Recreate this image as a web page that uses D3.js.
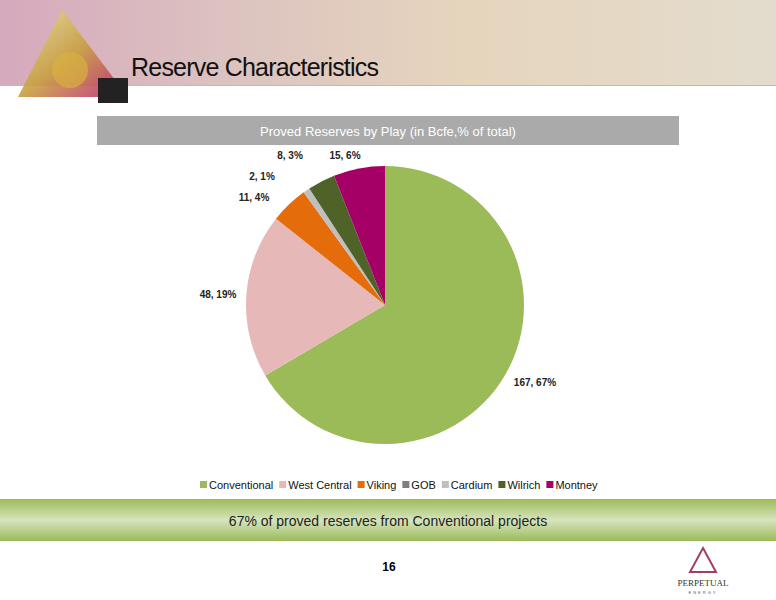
<!DOCTYPE html>
<html><head><meta charset="utf-8">
<script src="https://cdn.jsdelivr.net/npm/d3@7"></script>
<style>body{margin:0;background:#fff}svg{display:block;font-family:"Liberation Sans",Arial,sans-serif}</style>
</head><body>
<script>
const plays = ['Conventional','West Central','Viking','GOB','Cardium','Wilrich','Montney'];
const reserves = [167, 48, 11, 0, 2, 8, 15];
const shares = [67, 19, 4, 0, 1, 3, 6];
const colors = ['#9bbb59','#e6b9b8','#e46c0a','#7f7f7f','#bfbfbf','#4f6228','#a50066'];

const width = 776, height = 600;
const svg = d3.select('body').append('svg').attr('width', width).attr('height', height);
const defs = svg.append('defs');

let hg = defs.append('linearGradient').attr('id','hdr');
hg.append('stop').attr('offset','0%').attr('stop-color','#d6a9bd');
hg.append('stop').attr('offset','30%').attr('stop-color','#dcc3c0');
hg.append('stop').attr('offset','60%').attr('stop-color','#e6d5bd');
hg.append('stop').attr('offset','100%').attr('stop-color','#e3dccd');
svg.append('rect').attr('width',width).attr('height',85).attr('fill','url(#hdr)');
svg.append('line').attr('x1',0).attr('x2',width).attr('y1',85.5).attr('y2',85.5).attr('stroke','#bbb');

// logo triangle
let lg = defs.append('linearGradient').attr('id','logo').attr('x1',0).attr('y1',0).attr('x2',1).attr('y2',1);
lg.append('stop').attr('offset','0%').attr('stop-color','#e8e0a0');
lg.append('stop').attr('offset','50%').attr('stop-color','#c8a040');
lg.append('stop').attr('offset','100%').attr('stop-color','#c0207a');
svg.append('path').attr('d','M62,10 L128,97 L18,97 Z').attr('fill','url(#logo)').attr('opacity',0.9);
svg.append('circle').attr('cx',70).attr('cy',70).attr('r',18).attr('fill','#d8b040').attr('opacity',0.7);
svg.append('rect').attr('x',98).attr('y',78).attr('width',30).attr('height',25).attr('fill','#222');

svg.append('text').attr('x',131).attr('y',76).attr('font-size',25).attr('fill','#111')
  .attr('textLength',248).text('Reserve Characteristics');

svg.append('rect').attr('x',97).attr('y',116).attr('width',582).attr('height',29).attr('fill','#aaaaaa');
svg.append('text').attr('x',388).attr('y',136).attr('text-anchor','middle').attr('font-size',13)
  .attr('fill','#fff').text('Proved Reserves by Play (in Bcfe,% of total)');

const data = plays.map((p,i) => ({play:p, value:reserves[i], share:shares[i], color:colors[i]}));
const pie = d3.pie().sort(null).value(d => d.value);
const arcs = pie(data);
const r = 139, cx = 385, cy = 305;
const arc = d3.arc().innerRadius(0).outerRadius(r);
const g = svg.append('g').attr('transform',`translate(${cx},${cy})`);
g.selectAll('path').data(arcs).enter().append('path').attr('d',arc).attr('fill',d => d.data.color);

const labelPos = {Conventional:[535,386], 'West Central':[218,298], Viking:[254,201], Cardium:[262,180], Wilrich:[290,159], Montney:[345,159]};
svg.selectAll('.lbl').data(arcs.filter(d => d.data.value > 0)).enter().append('text')
  .attr('x', d => labelPos[d.data.play][0]).attr('y', d => labelPos[d.data.play][1])
  .attr('text-anchor','middle').attr('font-size',10).attr('font-weight','bold').attr('fill','#222')
  .text(d => `${d.data.value}, ${d.data.share}%`);

// legend
const items = svg.append('g');
let x = 200;
data.forEach(d => {
  items.append('rect').attr('x',x).attr('y',481).attr('width',7).attr('height',7).attr('fill',d.color);
  const t = items.append('text').attr('x',x+9).attr('y',489).attr('font-size',11).attr('fill','#111').text(d.play);
  x += 9 + t.node().getComputedTextLength() + 6;
});

let gg = defs.append('linearGradient').attr('id','band').attr('x1',0).attr('y1',0).attr('x2',0).attr('y2',1);
gg.append('stop').attr('offset','0%').attr('stop-color','#9bbb59');
gg.append('stop').attr('offset','50%').attr('stop-color','#d7e4bd');
gg.append('stop').attr('offset','100%').attr('stop-color','#9bbb59');
svg.append('rect').attr('x',0).attr('y',499).attr('width',width).attr('height',42).attr('fill','url(#band)');
svg.append('text').attr('x',388).attr('y',526).attr('text-anchor','middle').attr('font-size',14).attr('fill','#222')
  .text('67% of proved reserves from Conventional projects');

svg.append('text').attr('x',389).attr('y',571).attr('text-anchor','middle').attr('font-size',12)
  .attr('font-weight','bold').text('16');

// company mark
svg.append('path').attr('d','M703,548 L716,572 L690,572 Z').attr('fill','none').attr('stroke','#a04060').attr('stroke-width',2);
svg.append('text').attr('x',703).attr('y',586).attr('text-anchor','middle').attr('font-size',9)
  .attr('font-family','Liberation Serif').attr('fill','#333').text('PERPETUAL');
svg.append('text').attr('x',703).attr('y',594).attr('text-anchor','middle').attr('font-size',4)
  .attr('letter-spacing',2).attr('fill','#555').text('ENERGY');
</script>
</body></html>
